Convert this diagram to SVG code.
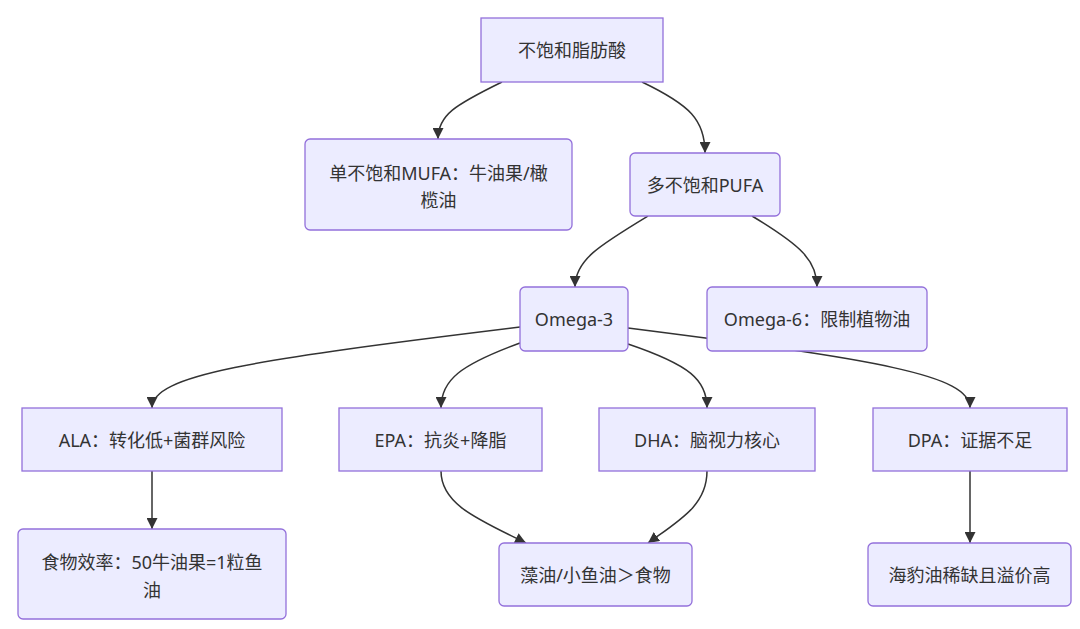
<svg xmlns="http://www.w3.org/2000/svg" width="1080" height="629" viewBox="0 0 1080 629">
<style>
.node rect{fill:#ECECFF;stroke:#9370DB;stroke-width:1.3}
.node text{font-family:"Noto Sans","Noto Sans CJK SC",sans-serif;font-size:18px;fill:#333;text-anchor:middle;dominant-baseline:central}
.edges path{fill:none;stroke:#333;stroke-width:1.5;marker-end:url(#arrow)}
</style>
<defs>
<marker id="arrow" viewBox="0 0 10 10" refX="10" refY="5" markerUnits="userSpaceOnUse" markerWidth="11" markerHeight="11" orient="auto">
<path d="M0,0 L10,5 L0,10 z" fill="#333"/>
</marker>
</defs>
<rect width="1080" height="629" fill="#fff"/>
<g class="edges" id="edges">
<path d="M502,82 C455,105 438,115 438,139"/>
<path d="M642,82 C690,105 705,120 705,153"/>
<path d="M648,216 C600,245 575,260 575,287"/>
<path d="M752,216 C800,245 817,260 817,287"/>
<path d="M520,327 C250,360 152,375 152,408"/>
<path d="M520,343 C460,365 441,380 441,408"/>
<path d="M628,344 C690,365 707,380 707,408"/>
<path d="M628,328 C880,360 970,375 970,408"/>
<path d="M152,471 L152,529"/>
<path d="M441,471 C441,505 480,520 526,543"/>
<path d="M707,471 C707,505 680,520 648,543"/>
<path d="M970,471 L970,543"/>
</g>
<g class="node" id="n-ufa"><rect x="481" y="18" width="182" height="64"/><text x="572" y="50">不饱和脂肪酸</text></g>
<g class="node" id="n-mufa"><rect x="305" y="139" width="267" height="91" rx="5"/><text x="438.5" y="173">单不饱和MUFA：牛油果/橄</text><text x="438.5" y="200">榄油</text></g>
<g class="node" id="n-pufa"><rect x="630" y="153" width="150" height="63" rx="5"/><text x="705" y="184.5">多不饱和PUFA</text></g>
<g class="node" id="n-o3"><rect x="520" y="287" width="108" height="64" rx="5"/><text x="574" y="319">Omega-3</text></g>
<g class="node" id="n-o6"><rect x="707" y="287" width="220" height="64" rx="5"/><text x="817" y="319">Omega-6：限制植物油</text></g>
<g class="node" id="n-ala"><rect x="22" y="408" width="260" height="63"/><text x="152" y="439.5">ALA：转化低+菌群风险</text></g>
<g class="node" id="n-epa"><rect x="339" y="408" width="203" height="63"/><text x="440.5" y="439.5">EPA：抗炎+降脂</text></g>
<g class="node" id="n-dha"><rect x="599" y="408" width="216" height="63"/><text x="707" y="439.5">DHA：脑视力核心</text></g>
<g class="node" id="n-dpa"><rect x="873" y="408" width="194" height="63"/><text x="970" y="439.5">DPA：证据不足</text></g>
<g class="node" id="n-food"><rect x="18" y="529" width="268" height="90" rx="5"/><text x="152" y="562">食物效率：50牛油果=1粒鱼</text><text x="152" y="590">油</text></g>
<g class="node" id="n-algae"><rect x="499" y="543" width="193" height="63" rx="5"/><text x="595.5" y="574.5">藻油/小鱼油＞食物</text></g>
<g class="node" id="n-seal"><rect x="868" y="543" width="203" height="63" rx="5"/><text x="969.5" y="574.5">海豹油稀缺且溢价高</text></g>
</svg>
